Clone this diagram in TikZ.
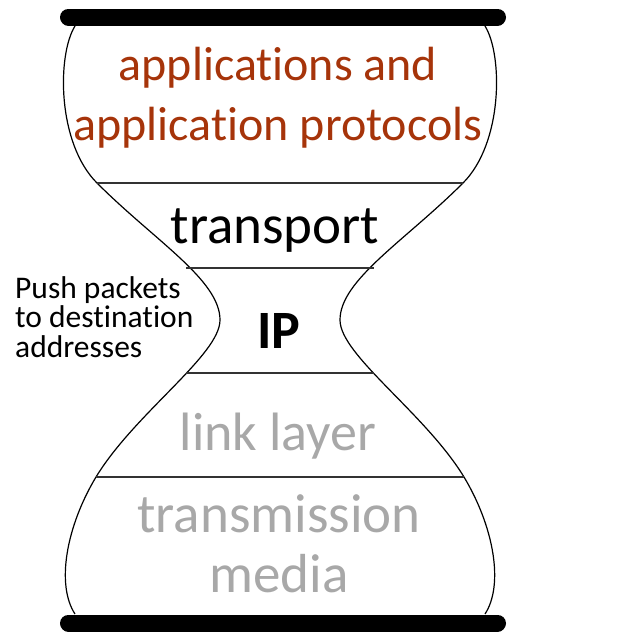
\documentclass[tikz,border=0pt]{standalone}
\usepackage{fontspec}
\setmainfont{Carlito}[Ligatures=NoCommon]
\definecolor{appred}{RGB}{166,52,10}
\definecolor{lowgray}{RGB}{168,168,168}
\def\glassside[#1]{\draw[#1] (75,26) .. controls (57,55) and (57,143) .. (97,183)
	.. controls (155,241) and (220,280) .. (220,320)
	.. controls (220,355) and (135,413) .. (96,477)
	.. controls (66,527) and (56,585) .. (75,614);}

\begin{document}
\begin{tikzpicture}[x=1pt, y=-1pt]
		%%%%% START %%%%%
		\useasboundingbox (0,0) rectangle (633,643);
		
		\draw[line width=17pt, line cap=round, color=black] (68.5, 17) -- (497.5, 17);
		\draw[line width=17pt, line cap=round, color=black] (68.5, 623) -- (497.5, 623);
		
		\glassside[line width=1.2pt]
		\glassside[line width=1.2pt, xshift=560pt, xscale=-1]
		
		\draw[line width=1.5pt, color=black!80] (97, 183) -- (463, 183);
		\draw[line width=1.5pt, color=black!80] (186, 268) -- (374, 268);
		\draw[line width=1.5pt, color=black!80] (186, 373) -- (374, 373);
		\draw[line width=1.5pt, color=black!80] (96, 477) -- (464, 477);
		
		\node[anchor=base, align=center, text=appred, font=\fontsize{48}{60}\selectfont] (apps) at (278, 140) {applications and\\application protocols};
		\node[anchor=base, font=\fontsize{55}{60}\selectfont] (transport) at (275, 243) {transport};
		\node[anchor=base, font=\bfseries\fontsize{54}{60}\selectfont] (ip) at (279, 348) {IP};
		\node[anchor=base, text=lowgray, font=\fontsize{54}{60}\selectfont] (link) at (278, 450) {link layer};
		\node[anchor=base, align=center, text=lowgray, font=\fontsize{55}{60}\selectfont] (media) at (279, 592) {transmission\\media};
		
		\node[anchor=base west, align=left, inner sep=0pt, font=\fontsize{31.5}{29.5}\selectfont] (push) at (15, 357) {Push packets\\to destination\\addresses};
		
		%%%%% END %%%%%
	\end{tikzpicture}
\end{document}
